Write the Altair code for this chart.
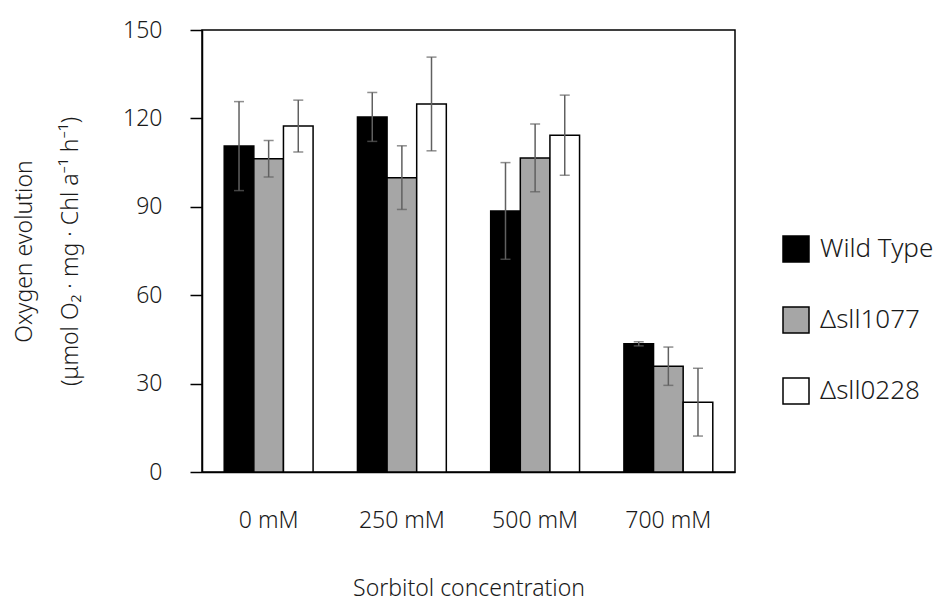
import altair as alt
import pandas as pd

categories = ["0 mM", "250 mM", "500 mM", "700 mM"]
series = ["Wild Type", "Δsll1077", "Δsll0228"]
colors = ["#000000", "#a6a6a6", "#ffffff"]

wild_type = [110.6, 120.5, 88.6, 43.5]
wild_type_err = [15.1, 8.3, 16.4, 0.7]
sll1077 = [106.3, 99.9, 106.6, 35.9]
sll1077_err = [6.2, 10.8, 11.5, 6.5]
sll0228 = [117.4, 124.9, 114.3, 23.7]
sll0228_err = [8.8, 15.9, 13.6, 11.5]

y_ticks = [0, 30, 60, 90, 120, 150]

rows = []
for name, vals, errs in zip(series, [wild_type, sll1077, sll0228],
                            [wild_type_err, sll1077_err, sll0228_err]):
    for c, v, e in zip(categories, vals, errs):
        rows.append({"conc": c, "strain": name, "mean": v, "err": e})
df = pd.DataFrame(rows)

FONT = "Noto Sans"
W = 300
TXT = "#1a1a1a"

x_enc = alt.X(
    "conc:N", sort=categories,
    scale=alt.Scale(paddingInner=0.333, paddingOuter=0.1667),
    axis=alt.Axis(title="Sorbitol concentration", labelAngle=0, ticks=False,
                  labelPadding=37, titlePadding=45, labelFontSize=23,
                  titleFontSize=23, labelFont=FONT, titleFont=FONT,
                  labelFontWeight=W, titleFontWeight=W,
                  labelColor=TXT, titleColor=TXT,
                  domainColor="black", domainWidth=1.5),
)
xo_enc = alt.XOffset("strain:N", sort=series,
                     scale=alt.Scale(domain=series, paddingInner=0, paddingOuter=0))

base = alt.Chart(df)

bars = base.mark_bar(stroke="black", strokeWidth=1.5).encode(
    x=x_enc,
    xOffset=xo_enc,
    y=alt.Y(
        "mean:Q",
        scale=alt.Scale(domain=[0, 150], nice=False),
        axis=alt.Axis(
            values=y_ticks, grid=False, tickSize=12, tickColor="black",
            tickWidth=1.5, labelPadding=28, labelFontSize=23, labelFont=FONT,
            labelFontWeight=W, labelColor=TXT, domainColor="black",
            domainWidth=1.5,
            title=["Oxygen evolution", "(μmol O₂ · mg · Chl a⁻¹ h⁻¹)"],
            titleFontSize=23, titleFont=FONT, titleColor=TXT,
            titleFontWeight=W, titleLineHeight=46, titlePadding=40,
        ),
    ),
    color=alt.Color(
        "strain:N", sort=series,
        scale=alt.Scale(domain=series, range=colors),
        legend=alt.Legend(
            title=None, orient="none", legendX=580, legendY=205,
            symbolType="square", symbolSize=676, symbolStrokeColor="black",
            symbolStrokeWidth=1.5, labelFontSize=26, labelFont=FONT,
            labelFontWeight=W, labelColor=TXT, rowPadding=39,
            labelOffset=10, padding=0,
        ),
    ),
)

rules = base.mark_rule(color="#606060", strokeWidth=1.5).transform_calculate(
    lo="datum.mean - datum.err", hi="datum.mean + datum.err"
).encode(
    x=alt.X("conc:N", sort=categories),
    xOffset=alt.XOffset("strain:N", sort=series),
    y=alt.Y("lo:Q"),
    y2="hi:Q",
)

caps_lo = base.mark_tick(color="#606060", thickness=1.5, size=10,
                         orient="horizontal").transform_calculate(
    lo="datum.mean - datum.err"
).encode(
    x=alt.X("conc:N", sort=categories),
    xOffset=alt.XOffset("strain:N", sort=series),
    y=alt.Y("lo:Q"),
)

caps_hi = base.mark_tick(color="#606060", thickness=1.5, size=10,
                         orient="horizontal").transform_calculate(
    hi="datum.mean + datum.err"
).encode(
    x=alt.X("conc:N", sort=categories),
    xOffset=alt.XOffset("strain:N", sort=series),
    y=alt.Y("hi:Q"),
)

chart = alt.layer(bars, rules, caps_lo, caps_hi).properties(
    width=533, height=442,
    autosize=alt.AutoSizeParams(type="none"),
    padding={"left": 202, "top": 30, "right": 217, "bottom": 130},
    background="white",
).configure_view(stroke="black", strokeWidth=1.5)

chart.save("out.html", embed_options={"renderer": "svg", "actions": False})
